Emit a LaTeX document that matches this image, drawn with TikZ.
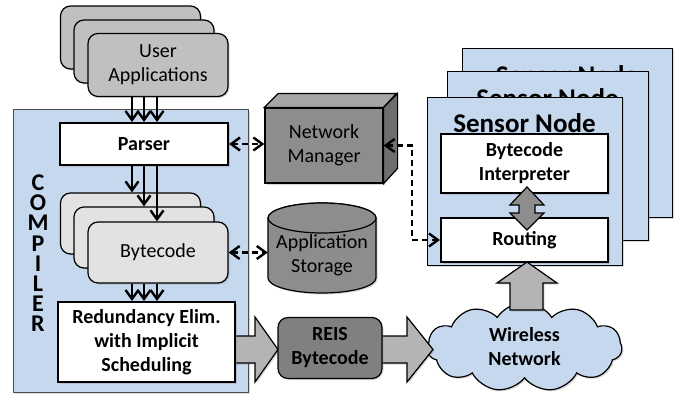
\documentclass[tikz,border=0pt]{standalone}
\usepackage{fontspec}
\setmainfont{Carlito}
\usetikzlibrary{shapes.symbols,shadows,calc,arrows.meta}

\definecolor{paleblue}{RGB}{197,216,238}
\definecolor{appgray}{RGB}{192,192,192}
\definecolor{codegray}{RGB}{226,226,226}
\definecolor{darkbox}{RGB}{141,141,141}
\definecolor{darktop}{RGB}{165,165,165}
\definecolor{darkside}{RGB}{110,110,110}
\definecolor{reisgray}{RGB}{128,128,128}
\definecolor{arrowgray}{RGB}{180,180,180}

\tikzset{
  softshadow/.style={drop shadow={shadow xshift=1.5pt,shadow yshift=-1.5pt,opacity=0.3}},
  txt/.style={font=\fontsize{20}{24}\selectfont, align=center},
  btxt/.style={font=\fontsize{20}{24}\selectfont\bfseries, align=center},
  stackbox/.style={draw, line width=1.2pt, rounded corners=10pt, inner sep=0pt,
    minimum width=140pt, minimum height=63pt, softshadow},
  appbox/.style={stackbox, fill=appgray},
  codebox/.style={stackbox, fill=codegray, minimum height=61pt},
  whitebox/.style={draw, line width=2pt, fill=white, inner sep=0pt, btxt, softshadow},
  sensorbox/.style={draw, line width=1pt, fill=paleblue, inner sep=0pt, minimum height=168pt, softshadow},
  sensortitle/.style={anchor=north, inner sep=0pt, font=\fontsize{27}{30}\selectfont\bfseries},
  vletter/.style={inner sep=0pt, font=\fontsize{24}{24}\selectfont\bfseries},
  flow/.style={line width=2.4pt, -{Straight Barb[length=9pt,width=13pt]}},
  dashlink/.style={line width=2.4pt, dash pattern=on 6pt off 4pt,
    {Straight Barb[length=9pt,width=13pt]}-{Straight Barb[length=9pt,width=13pt]}},
  blockarrow/.style={draw, line width=1.2pt, fill=arrowgray, softshadow},
}

\begin{document}
\begin{tikzpicture}[x=1pt, y=-1pt]
\useasboundingbox (0,0) rectangle (681,399);
\fill[white] (0,0) rectangle (681,399);

% user applications stack
\node[appbox] (ua1) at (130.5,37.5) {};
\node[appbox] (ua2) at (144,51.5) {};
\node[appbox, txt] (ua3) at (158,65) {User\\Applications};

% compiler frame with its vertical title
\node[draw=black!70, line width=1pt, fill=paleblue, minimum width=235pt, minimum height=283pt,
      inner sep=0pt, softshadow] (comp) at (130.5,250.5) {};
\foreach \ch [count=\i] in {C,O,M,P,I,L,E,R}
  \node[vletter] (cl\i) at (38,{183+20.1*(\i-1)}) {\ch};

\node[whitebox, minimum width=168pt, minimum height=42pt] (parser) at (144,144) {Parser};

% bytecode stack
\node[codebox] (bc1) at (130.5,223.5) {};
\node[codebox] (bc2) at (144,237.5) {};
\node[codebox, txt] (bc3) at (158,252.5) {Bytecode};

% block arrow out of the compiler
\path[blockarrow] (230,336) -- (255,336) -- (255,317) -- (278,349.5) -- (255,382)
  -- (255,363) -- (230,363) -- cycle;
\node[whitebox, minimum width=177pt, minimum height=80pt] (red) at (146.5,342)
  {Redundancy Elim.\\with Implicit\\Scheduling};

% wireless cloud
\node[cloud, cloud puffs=11, cloud puff arc=115, aspect=2.2, draw, line width=1.2pt,
      fill=paleblue, minimum width=195pt, minimum height=89pt, inner sep=0pt, btxt, softshadow]
  (wn) at (524.5,347) {Wireless\\Network};

\path[blockarrow] (378,336) -- (407,336) -- (407,317) -- (433,349.5) -- (407,382)
  -- (407,363) -- (378,363) -- cycle;
\node[draw, line width=1.2pt, fill=reisgray, rounded corners=10pt, minimum width=104pt,
      minimum height=61pt, inner sep=0pt, btxt, softshadow] (reis) at (330,348) {REIS\\Bytecode};

% network manager block
\node[draw, line width=1.2pt, fill=darkbox, minimum width=118pt, minimum height=75pt,
      inner sep=0pt, txt, softshadow] (nm) at (324,145.5) {Network\\Manager};
\draw[line width=1.2pt, fill=darktop] (nm.north west) -- ++(14,-14) -- ++(118,0)
  -- (nm.north east) -- cycle;
\draw[line width=1.2pt, fill=darkside] (nm.north east) -- ++(14,-14) -- ++(0,75)
  -- (nm.south east) -- cycle;

% application storage cylinder
\path[draw, line width=1.2pt, fill=darkbox, softshadow] (268,218) -- (268,278)
  arc[start angle=180, end angle=360, x radius=54pt, y radius=15pt] -- (376,218)
  arc[start angle=0, end angle=180, x radius=54pt, y radius=15pt] -- cycle;
\draw[line width=1.2pt, fill=darkbox] (322,218) ellipse[x radius=54pt, y radius=15pt];
\node[txt, inner sep=0pt, minimum width=108pt, minimum height=75pt] (store) at (322,255)
  {Application\\Storage};

% sensor node stack
\node[sensorbox, minimum width=210pt, minimum height=169pt] (sn3) at (567,132.5) {};
\node[sensortitle] (sn3t) at ($(sn3.north)+(0,18)$) {Sensor Node};
\node[sensorbox, minimum width=201pt, minimum height=169pt] (sn2) at (547.5,155.5) {};
\node[sensortitle] (sn2t) at ($(sn2.north)+(0,18)$) {Sensor Node};
\node[sensorbox, minimum width=195pt] (sn1) at (524.5,181) {};
\node[sensortitle] (sn1t) at ($(sn1.north)+(0,17)$) {Sensor Node};

\node[whitebox, minimum width=167pt, minimum height=59pt] (interp) at (524.5,163.5)
  {Bytecode\\Interpreter};
\node[whitebox, minimum width=167pt, minimum height=44pt] (route) at (524.5,240) {Routing};

% block arrows inside and below the sensor node
\path[draw, line width=1.2pt, fill=darkbox] (527,187) -- (544,205) -- (535,205) -- (535,213)
  -- (544,213) -- (527,230) -- (510,213) -- (519,213) -- (519,205) -- (510,205) -- cycle;
\path[blockarrow] (527,262) -- (557,283) -- (543,283) -- (543,310) -- (510,310)
  -- (510,283) -- (497,283) -- cycle;

% column positions of the three parallel flows
\coordinate (fa) at (132,0);
\coordinate (fb) at (144,0);
\coordinate (fc) at (157,0);

\draw[flow] (ua3.south -| fa) -- (parser.north -| fa);
\draw[flow] (ua3.south -| fb) -- (parser.north -| fb);
\draw[flow] (ua3.south -| fc) -- (parser.north -| fc);

\draw[flow] (parser.south -| fa) -- (bc1.north -| fa);
\draw[flow] (parser.south -| fb) -- (bc2.north -| fb);
\draw[flow] (parser.south -| fc) -- (bc3.north -| fc);

\draw[flow] (bc3.south -| fa) -- (red.north -| fa);
\draw[flow] (bc3.south -| fb) -- (red.north -| fb);
\draw[flow] (bc3.south -| fc) -- (red.north -| fc);

% dashed control links
\draw[dashlink] (parser.east) -- (parser.east -| nm.west);
\draw[dashlink] (bc3.east) -- (bc3.east -| store.west);
\coordinate (bend) at (412,0);
\draw[dashlink] (nm.east) -- (nm.east -| bend) |- (route.west);
\end{tikzpicture}
\end{document}
